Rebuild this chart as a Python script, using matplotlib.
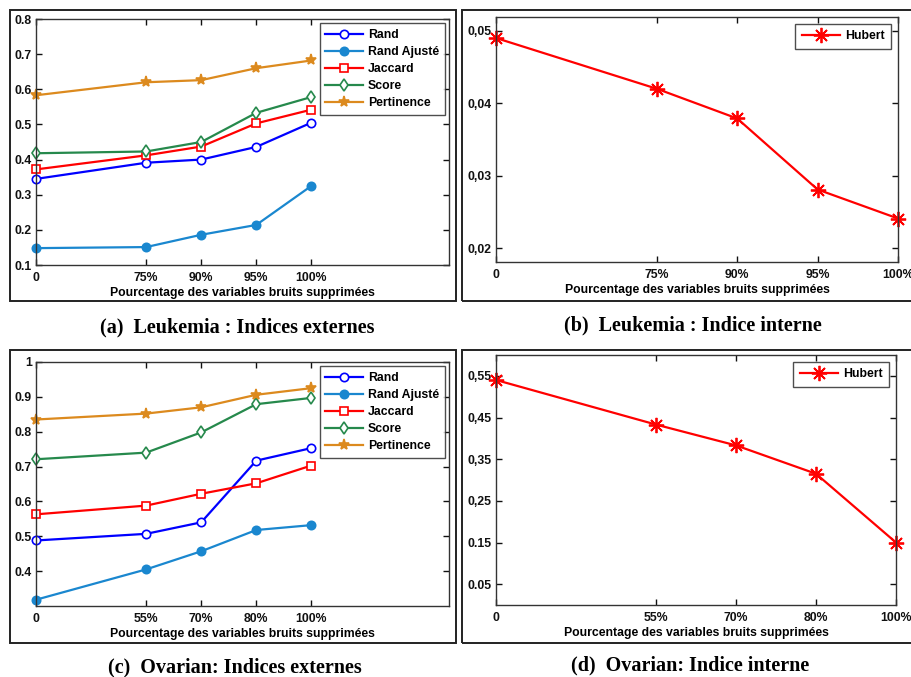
import matplotlib
matplotlib.use("Agg")
import matplotlib.pyplot as plt
from matplotlib.patches import Rectangle

W, H = 911, 677

# data
x_pos = [0, 2, 3, 4, 5]
leuk_ticks = ['0', '75%', '90%', '95%', '100%']
ovar_ticks = ['0', '55%', '70%', '80%', '100%']

leuk_rand = [0.345, 0.391, 0.400, 0.436, 0.505]
leuk_rand_aj = [0.148, 0.151, 0.186, 0.214, 0.325]
leuk_jaccard = [0.372, 0.412, 0.437, 0.503, 0.542]
leuk_score = [0.418, 0.423, 0.450, 0.533, 0.578]
leuk_pert = [0.583, 0.620, 0.626, 0.660, 0.682]
leuk_hubert = [0.0490, 0.0420, 0.0379, 0.0281, 0.0241]

ovar_rand = [0.488, 0.507, 0.540, 0.717, 0.753]
ovar_rand_aj = [0.318, 0.405, 0.457, 0.518, 0.532]
ovar_jaccard = [0.563, 0.588, 0.622, 0.652, 0.703]
ovar_score = [0.721, 0.740, 0.798, 0.879, 0.897]
ovar_pert = [0.835, 0.852, 0.870, 0.906, 0.925]
ovar_hubert = [0.540, 0.433, 0.383, 0.315, 0.150]

leuk_yt = [0.1, 0.2, 0.3, 0.4, 0.5, 0.6, 0.7, 0.8]
leuk_ytl = ['0.1', '0.2', '0.3', '0.4', '0.5', '0.6', '0.7', '0.8']
ovar_yt = [0.4, 0.5, 0.6, 0.7, 0.8, 0.9, 1.0]
ovar_ytl = ['0.4', '0.5', '0.6', '0.7', '0.8', '0.9', '1']
hub_l_yt = [0.02, 0.03, 0.04, 0.05]
hub_l_ytl = ['0,02', '0,03', '0,04', '0,05']
hub_o_yt = [0.05, 0.15, 0.25, 0.35, 0.45, 0.55]
hub_o_ytl = ['0.05', '0.15', '0,25', '0,35', '0,45', '0,55']

names = ['Rand', 'Rand Ajusté', 'Jaccard', 'Score', 'Pertinence']
colors = ['#0000ff', '#1a87cf', '#ff0000', '#26894c', '#dc8a1e']
markers = ['o', 'o', 's', 'd', '*']
fills = ['white', None, 'white', 'white', None]

xlabel = 'Pourcentage des variables bruits supprimées'
captions = ['(a)  Leukemia : Indices externes', '(b)  Leukemia : Indice interne',
            '(c)  Ovarian: Indices externes', '(d)  Ovarian: Indice interne']

plt.rcParams['font.family'] = 'Liberation Sans'
plt.rcParams['font.weight'] = 'bold'

FS = 8.8

fig = plt.figure(figsize=(W / 100, H / 100), dpi=100)


def px_axes(l, t, r, b):
    return fig.add_axes([l / W, 1 - b / H, (r - l) / W, (b - t) / H])


def frame(l, t, r, b):
    fig.patches.append(Rectangle((l / W, 1 - b / H), (r - l) / W, (b - t) / H,
                                 transform=fig.transFigure, fill=False,
                                 edgecolor='#222222', linewidth=1.4))


def style(ax, xtl, yt, ytl):
    ax.set_xticks(x_pos)
    ax.set_xticklabels(xtl)
    ax.set_yticks(yt)
    ax.set_yticklabels(ytl)
    ax.tick_params(direction='in', length=4, width=1, top=True, right=True,
                   labelsize=FS, pad=3, colors='#111111')
    ax.tick_params(axis='x', pad=5)
    for s in ax.spines.values():
        s.set_linewidth(1.0)
        s.set_color('#333333')
    ax.set_xlabel(xlabel, fontsize=FS, fontweight='bold', labelpad=2)


def legend(ax, **kw):
    leg = ax.legend(loc='upper right', fontsize=FS, frameon=True, fancybox=False,
                    handlelength=3.1, handletextpad=0.4, **kw)
    leg.get_frame().set_edgecolor('#222222')
    leg.get_frame().set_linewidth(1.0)


def externes(ax, series, xtl, ylim, yt, ytl):
    for vals, name, c, m, f in zip(series, names, colors, markers, fills):
        ms = 8 if m == '*' else 6
        ax.plot(x_pos, vals, color=c, marker=m, markersize=ms, linewidth=1.6,
                markerfacecolor=f if f else c, markeredgecolor=c,
                markeredgewidth=1.2, label=name, clip_on=False)
    ax.set_xlim(0, 7.5)
    ax.set_ylim(*ylim)
    style(ax, xtl, yt, ytl)
    legend(ax, borderaxespad=0.35, labelspacing=0.42, borderpad=0.45)


def interne(ax, vals, xtl, ylim, yt, ytl):
    ax.plot(x_pos, vals, color='#ff0000', marker=(8, 2, 0), markersize=11,
            markeredgewidth=1.3, linewidth=1.6, label='Hubert', clip_on=False)
    ax.set_xlim(0, 5)
    ax.set_ylim(*ylim)
    style(ax, xtl, yt, ytl)
    legend(ax, borderaxespad=0.55, borderpad=0.55)


# frames round each sub-figure
frame(10, 10, 456, 301)
frame(462, 10, 915, 301)
frame(10, 350, 456, 643)
frame(462, 350, 915, 643)

ax_a = px_axes(36, 19, 449, 265)
externes(ax_a, [leuk_rand, leuk_rand_aj, leuk_jaccard, leuk_score, leuk_pert],
         leuk_ticks, (0.1, 0.8), leuk_yt, leuk_ytl)

ax_b = px_axes(496, 17, 898, 262)
interne(ax_b, leuk_hubert, leuk_ticks, (0.0181, 0.0519), hub_l_yt, hub_l_ytl)

ax_c = px_axes(36, 362, 449, 606)
externes(ax_c, [ovar_rand, ovar_rand_aj, ovar_jaccard, ovar_score, ovar_pert],
         ovar_ticks, (0.3, 1.0), ovar_yt, ovar_ytl)

ax_d = px_axes(496, 355, 896, 605)
interne(ax_d, ovar_hubert, ovar_ticks, (0.0, 0.6), hub_o_yt, hub_o_ytl)

# captions
for (cx, cy), txt in zip([(237, 327), (693, 325), (235, 667), (690, 665)], captions):
    fig.text(cx / W, 1 - cy / H, txt, ha='center', va='center',
             family='Liberation Serif', fontweight='bold', fontsize=14.5)

fig.savefig('out.png', dpi=100)
